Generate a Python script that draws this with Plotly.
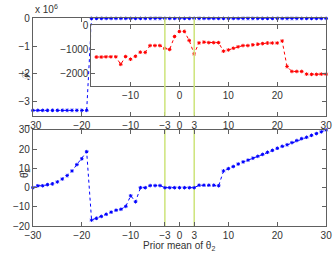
import plotly.graph_objects as go

# ---------------- data ----------------
prior_mean = list(range(-30, 31))

# Free energy F (raw units); top panel shows it in units of 1e6
F_values = [-3.31e6] * 12 + [-1300,
    -1310, -1310, -1300, -1300, -1300, -1610, -1290, -1400, -1280, -1110,
    -1120, -840, -840, -840, -950, -1000, -470, -260, -260, -630,
    -1180, -730, -700, -720, -720, -720, -1070, -1020, -950, -890,
    -840, -840, -810, -785, -760, -735, -735, -735, -650, -1700,
    -1900, -1900, -1900, -2010, -2020, -2020, -2010, -2010]

theta2_hat = [0, 1, 1, 1.6, 2, 3, 4.5, 6.3, 8.7, 12, 15, 18.7,
    -16.8, -15.9, -14.9, -13.8, -12.7, -11.7, -11.2, -9.7, -4.2, -7.3,
    0, 0, 1.1, 1.1, 1.1, 0, 0, 0, 0, 0, 0, 0,
    1.3, 1.3, 1.3, 1.3, 1.0, 8.7, 9.9, 11, 12.3, 13.4, 14.3, 15.3, 16.3,
    17.3, 18.4, 19.4, 20.5, 21.5, 22.3, 23.4, 24.5, 25.5, 26.2, 27.2,
    28.1, 29, 30]

inset_start = -17
marked_means = [-3, 3]
x_ticks = [-30, -20, -10, -3, 0, 3, 10, 20, 30]

# ---------------- figure ----------------
W, H = 336, 257
def px_x(p):
    return p / W
def px_y(p):
    return 1 - p / H

F_scaled = [v / 1e6 for v in F_values]
ins_x = [x for x in prior_mean if x >= inset_start]
ins_y = [v for x, v in zip(prior_mean, F_values) if x >= inset_start]

blue = "#0000ff"
red = "#ff0000"
green = "#cde47a"
mk = dict(symbol="asterisk-open", size=3, line=dict(width=1))

fig = go.Figure()
fig.add_trace(go.Scatter(x=prior_mean, y=F_scaled, mode="lines+markers",
    line=dict(color=blue, dash="dot", width=1), marker=dict(color=blue, **mk),
    xaxis="x", yaxis="y", cliponaxis=False))
fig.add_trace(go.Scatter(x=prior_mean, y=theta2_hat, mode="lines+markers",
    line=dict(color=blue, dash="dot", width=1), marker=dict(color=blue, **mk),
    xaxis="x2", yaxis="y2", cliponaxis=False))
fig.add_trace(go.Scatter(x=ins_x, y=ins_y, mode="lines+markers",
    line=dict(color=red, dash="dot", width=1), marker=dict(color=red, **mk),
    xaxis="x3", yaxis="y3", cliponaxis=False))

axis_common = dict(showline=True, linecolor="#606060", linewidth=1, mirror="ticks",
                   ticks="inside", ticklen=4, tickcolor="#606060", showgrid=False,
                   zeroline=False, ticklabeloverflow="allow")
tf = dict(family="Liberation Sans", size=10, color="#333")

xdom = [px_x(26), px_x(332)]
fig.update_layout(
    width=W, height=H, margin=dict(l=0, r=0, t=0, b=0),
    paper_bgcolor="white", plot_bgcolor="white", showlegend=False,
    xaxis=dict(domain=xdom, range=[-30, 30], tickvals=x_ticks, anchor="y", tickfont=tf, **axis_common),
    yaxis=dict(domain=[px_y(115), px_y(13)], range=[-3.5, 0], tickvals=[-3, -2, -1, 0],
               anchor="x", tickfont=tf, **axis_common),
    xaxis2=dict(domain=xdom, range=[-30, 30], tickvals=x_ticks, anchor="y2", tickfont=tf, **axis_common),
    yaxis2=dict(domain=[px_y(231), px_y(130)], range=[-20, 30], tickvals=[-20, -10, 0, 10, 20, 30],
                anchor="x2", tickfont=tf, **axis_common),
    xaxis3=dict(domain=[px_x(87), px_x(332)], range=[-18, 30], tickvals=[-10, 0, 10, 20],
                anchor="y3", tickfont=tf, **axis_common),
    yaxis3=dict(domain=[px_y(84), px_y(20)], range=[-2500, 0], tickvals=[-2000, -1000, 0],
                anchor="x3", tickfont=tf, **axis_common),
)

shapes = []
for m in marked_means:
    shapes.append(dict(type="line", xref="x", yref="y domain", x0=m, x1=m, y0=0, y1=1,
                       line=dict(color=green, width=1.5), layer="above"))
    shapes.append(dict(type="line", xref="x2", yref="y2 domain", x0=m, x1=m, y0=0, y1=1,
                       line=dict(color=green, width=1.5), layer="below"))
fig.update_layout(shapes=shapes)

font = dict(family="Liberation Sans", size=10, color="#333")
fig.add_annotation(text="x 10<sup>6</sup>", xref="paper", yref="paper", x=px_x(26), y=px_y(12),
                   xanchor="left", yanchor="bottom", showarrow=False, font=font)
fig.add_annotation(text="ℱ", xref="paper", yref="paper", x=px_x(10), y=px_y(65),
                   textangle=-90, showarrow=False, font=dict(family="DejaVu Serif", size=11, color="#333"))
fig.add_annotation(text="θ̂<sub>2</sub>", xref="paper", yref="paper", x=px_x(10), y=px_y(183),
                   textangle=-90, showarrow=False, font=font)
fig.add_annotation(text="Prior mean of θ<sub>2</sub>", xref="paper", yref="paper", x=px_x(178),
                   y=px_y(243), yanchor="top", showarrow=False, font=font)

fig.write_html("out.html")
